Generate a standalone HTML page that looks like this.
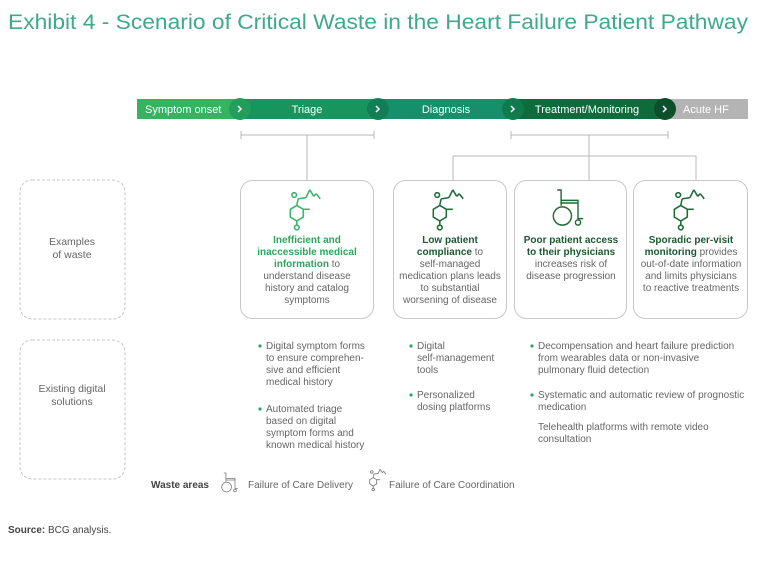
<!DOCTYPE html>
<html><head><meta charset="utf-8"><style>
html,body{margin:0;padding:0;background:#fff;}
svg{display:block;font-family:"Liberation Sans",sans-serif;}
</style></head><body>
<svg width="768" height="567" viewBox="0 0 768 567" xmlns="http://www.w3.org/2000/svg">
<defs>
<g id="mol" fill="none" stroke-width="1.2" stroke-linejoin="round">
  <polygon points="-4,8 1,11 1,17 -4,20 -9,17 -9,11"/>
  <line x1="1" y1="11" x2="6" y2="11"/>
  <line x1="-4" y1="8" x2="-3" y2="3"/>
  <circle cx="-6" cy="0" r="1.8"/>
  <line x1="-3" y1="3" x2="3" y2="2"/>
  <line x1="3" y1="2" x2="6" y2="-4"/>
  <line x1="6" y1="-4" x2="9" y2="1"/>
  <line x1="9" y1="1" x2="11" y2="-1"/>
  <line x1="11" y1="-1" x2="14" y2="3"/>
  <line x1="-4" y1="20" x2="-4" y2="23"/>
  <circle cx="-4" cy="25" r="1.8"/>
</g>
<g id="wc" fill="none" stroke-width="1.1">
  <path d="M-6,0 h3 v12"/>
  <path d="M-3,8 h13 v14 h4"/>
  <line x1="-3" y1="10" x2="10" y2="10"/>
  <circle cx="-2" cy="20" r="7"/>
  <circle cx="10" cy="25" r="2"/>
</g>
</defs>

<text x="8" y="29" font-size="21" fill="#3fa98a" textLength="740" lengthAdjust="spacingAndGlyphs">Exhibit 4 - Scenario of Critical Waste in the Heart Failure Patient Pathway</text>

<!-- bar -->
<rect x="137" y="99" width="106" height="20" fill="#35b35f"/>
<rect x="240" y="99" width="140" height="20" fill="#17955f"/>
<rect x="378" y="99" width="137" height="20" fill="#15906a"/>
<rect x="513" y="99" width="154" height="20" fill="#0e6c3c"/>
<rect x="665" y="99" width="83" height="20" fill="#b4b4b4"/>
<circle cx="240" cy="109" r="11" fill="#1f9f5a"/>
<circle cx="378" cy="109" r="11" fill="#107f55"/>
<circle cx="513" cy="109" r="11" fill="#0f7a4c"/>
<circle cx="665" cy="109" r="11" fill="#0b4f2b"/>
<g fill="#fff" font-size="11">
<text x="145" y="113">Symptom onset</text>
<text x="307" y="113" text-anchor="middle">Triage</text>
<text x="446" y="113" text-anchor="middle">Diagnosis</text>
<text x="587" y="113" text-anchor="middle">Treatment/Monitoring</text>
<text x="683" y="113">Acute HF</text>
</g>
<g fill="none" stroke="#fff" stroke-width="1.5">
<polyline points="238,106 241,109 238,112"/>
<polyline points="376,106 379,109 376,112"/>
<polyline points="511,106 514,109 511,112"/>
<polyline points="663,106 666,109 663,112"/>
</g>

<!-- connectors -->
<g stroke="#b8b8b8" stroke-width="1" fill="none">
<line x1="241" y1="135" x2="374" y2="135"/><line x1="241" y1="131" x2="241" y2="139"/><line x1="374" y1="131" x2="374" y2="139"/>
<line x1="307" y1="135" x2="307" y2="180"/>
<line x1="511" y1="135" x2="668" y2="135"/><line x1="511" y1="131" x2="511" y2="139"/><line x1="668" y1="131" x2="668" y2="139"/>
<line x1="589" y1="135" x2="589" y2="180"/>
<polyline points="453,180 453,156 696,156 696,180"/>
</g>

<!-- left dashed boxes -->
<g fill="none" stroke="#c4c4c4" stroke-dasharray="3,2">
<rect x="20" y="180" width="105" height="139" rx="12"/>
<rect x="20" y="340" width="105" height="139" rx="12"/>
</g>
<g fill="#666" font-size="10.5" text-anchor="middle">
<text x="72" y="245">Examples</text><text x="72" y="258">of waste</text>
<text x="72" y="392">Existing digital</text><text x="72" y="405">solutions</text>
</g>

<!-- boxes -->
<g fill="#fff" stroke="#c8c8c8">
<rect x="240.5" y="180.5" width="133" height="138" rx="12"/>
<rect x="393.5" y="180.5" width="113" height="138" rx="12"/>
<rect x="514.5" y="180.5" width="112" height="138" rx="12"/>
<rect x="633.5" y="180.5" width="114" height="138" rx="12"/>
</g>
<use href="#mol" transform="translate(302,195) scale(1.3)" stroke="#3ab56c"/>
<use href="#mol" transform="translate(445,195) scale(1.3)" stroke="#1f6b3a"/>
<use href="#wc" transform="translate(565,190) scale(1.3)" stroke="#1f6b3a"/>
<use href="#mol" transform="translate(686,195) scale(1.3)" stroke="#1f6b3a"/>

<g font-size="10" text-anchor="middle" fill="#666">
<text x="307" y="243" font-weight="bold" fill="#2ea55a">Inefficient and</text>
<text x="307" y="255" font-weight="bold" fill="#2ea55a">inaccessible medical</text>
<text x="307" y="267"><tspan font-weight="bold" fill="#2ea55a">information</tspan> to</text>
<text x="307" y="279">understand disease</text>
<text x="307" y="291">history and catalog</text>
<text x="307" y="303">symptoms</text>

<text x="450" y="243" font-weight="bold" fill="#1a5a30">Low patient</text>
<text x="450" y="255"><tspan font-weight="bold" fill="#1a5a30">compliance</tspan> to</text>
<text x="450" y="267">self-managed</text>
<text x="450" y="279">medication plans leads</text>
<text x="450" y="291">to substantial</text>
<text x="450" y="303">worsening of disease</text>

<text x="571" y="243" font-weight="bold" fill="#1a5a30">Poor patient access</text>
<text x="571" y="255" font-weight="bold" fill="#1a5a30">to their physicians</text>
<text x="571" y="267">increases risk of</text>
<text x="571" y="279">disease progression</text>

<text x="691" y="243" font-weight="bold" fill="#1a5a30">Sporadic per-visit</text>
<text x="691" y="255"><tspan font-weight="bold" fill="#1a5a30">monitoring</tspan> provides</text>
<text x="691" y="267">out-of-date information</text>
<text x="691" y="279">and limits physicians</text>
<text x="691" y="291">to reactive treatments</text>
</g>

<!-- bullets -->
<g fill="#2ea55a">
<circle cx="260" cy="346" r="1.6"/><circle cx="260" cy="409" r="1.6"/>
<circle cx="411" cy="346" r="1.6"/><circle cx="411" cy="395" r="1.6"/>
<circle cx="532" cy="346" r="1.6"/><circle cx="532" cy="395" r="1.6"/>
</g>
<g font-size="10" fill="#666">
<text x="266" y="349">Digital symptom forms</text>
<text x="266" y="361">to ensure comprehen-</text>
<text x="266" y="373">sive and efficient</text>
<text x="266" y="385">medical history</text>
<text x="266" y="412">Automated triage</text>
<text x="266" y="424">based on digital</text>
<text x="266" y="436">symptom forms and</text>
<text x="266" y="448">known medical history</text>

<text x="417" y="349">Digital</text>
<text x="417" y="361">self-management</text>
<text x="417" y="373">tools</text>
<text x="417" y="398">Personalized</text>
<text x="417" y="410">dosing platforms</text>

<text x="538" y="349">Decompensation and heart failure prediction</text>
<text x="538" y="361">from wearables data or non-invasive</text>
<text x="538" y="373">pulmonary fluid detection</text>
<text x="538" y="398">Systematic and automatic review of prognostic</text>
<text x="538" y="410">medication</text>
<text x="538" y="430">Telehealth platforms with remote video</text>
<text x="538" y="442">consultation</text>
</g>

<!-- legend -->
<text x="151" y="488" font-size="10" font-weight="bold" fill="#444">Waste areas</text>
<use href="#wc" transform="translate(228,473) scale(0.7)" stroke="#777"/>
<text x="248" y="488" font-size="10" fill="#666">Failure of Care Delivery</text>
<use href="#mol" transform="translate(376,472) scale(0.7)" stroke="#777"/>
<text x="389" y="488" font-size="10" fill="#666">Failure of Care Coordination</text>

<text x="8" y="533" font-size="10" fill="#444"><tspan font-weight="bold">Source:</tspan> BCG analysis.</text>
</svg>
</body></html>
